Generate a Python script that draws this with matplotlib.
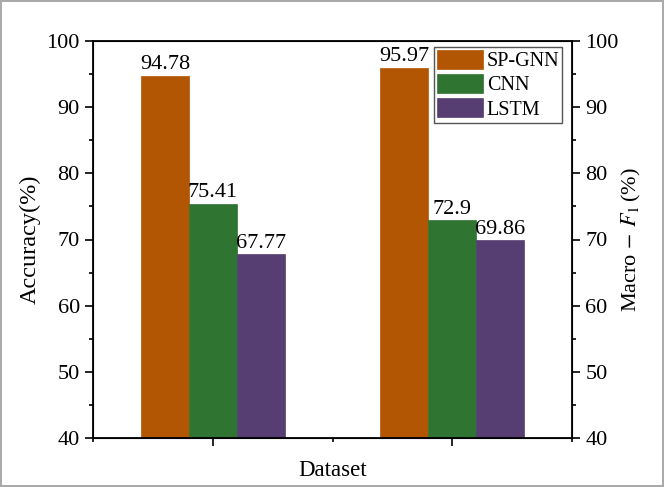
import numpy as np
import matplotlib
matplotlib.use('Agg')
from matplotlib import pyplot as plt
from matplotlib.ticker import MultipleLocator, FixedLocator

plt.rcParams['font.family'] = ['Liberation Serif', 'DejaVu Serif']
plt.rcParams['mathtext.fontset'] = 'stix'

# data
groups = [1, 2]
models = ['SP-GNN', 'CNN', 'LSTM']
accuracy = [94.78, 75.41, 67.77]
macro_f1 = [95.97, 72.9, 69.86]
colors = ['#B25603', '#307432', '#573E72']

fig = plt.figure(figsize=(6.64, 4.87), dpi=100)
fig.patch.set_edgecolor('#aaaaaa')
fig.patch.set_linewidth(1.5)
ax = fig.add_axes([93 / 664, 1 - 438 / 487, 479 / 664, 397 / 487])

w = 0.2
x = np.array(groups, dtype=float)
for i, name in enumerate(models):
    vals = [accuracy[i], macro_f1[i]]
    pos = x + (i - 1) * w
    bars = ax.bar(pos, np.array(vals) - 40, width=w, bottom=40, color=colors[i],
                  edgecolor=colors[i], linewidth=0.5, label=name, zorder=2)
    for b, v in zip(bars, vals):
        ax.text(b.get_x() + b.get_width() / 2, v + 0.2, '{:g}'.format(v),
                ha='center', va='bottom', fontsize=16)

ax.set_xlim(0.5, 2.5)
ax.set_ylim(40, 100)
ax.yaxis.set_major_locator(MultipleLocator(10))
ax.yaxis.set_minor_locator(MultipleLocator(5))
ax.xaxis.set_major_locator(FixedLocator([1, 2]))
ax.xaxis.set_minor_locator(FixedLocator([0.5, 1.5, 2.5]))
ax.set_xticklabels([])
ax.tick_params(axis='both', which='major', direction='out', length=6, width=1.2, labelsize=16)
ax.tick_params(axis='both', which='minor', direction='out', length=3, width=1.2)
for s in ax.spines.values():
    s.set_linewidth(1.3)

ax.set_ylabel('Accuracy(%)', fontsize=17.5, labelpad=4)
ax.set_xlabel('Dataset', fontsize=16.5, labelpad=6)

ax2 = ax.twinx()
ax2.set_ylim(40, 100)
ax2.yaxis.set_major_locator(MultipleLocator(10))
ax2.yaxis.set_minor_locator(MultipleLocator(5))
ax2.tick_params(axis='y', which='major', direction='out', length=6, width=1.2, labelsize=16)
ax2.tick_params(axis='y', which='minor', direction='out', length=3, width=1.2)
ax2.set_ylabel(r'Macro$\,-\,F_1\,$(%)', fontsize=16, labelpad=1)

leg = ax.legend(loc='upper right', bbox_to_anchor=(0.98, 0.985), fontsize=14.5,
                handlelength=2.25, handleheight=1.05, handletextpad=0.2,
                borderpad=0.15, labelspacing=0.15, borderaxespad=0.0,
                frameon=True, fancybox=False, framealpha=1)
leg.get_frame().set_edgecolor('#555555')
leg.get_frame().set_linewidth(1.0)

plt.savefig('out.png', dpi=100)
